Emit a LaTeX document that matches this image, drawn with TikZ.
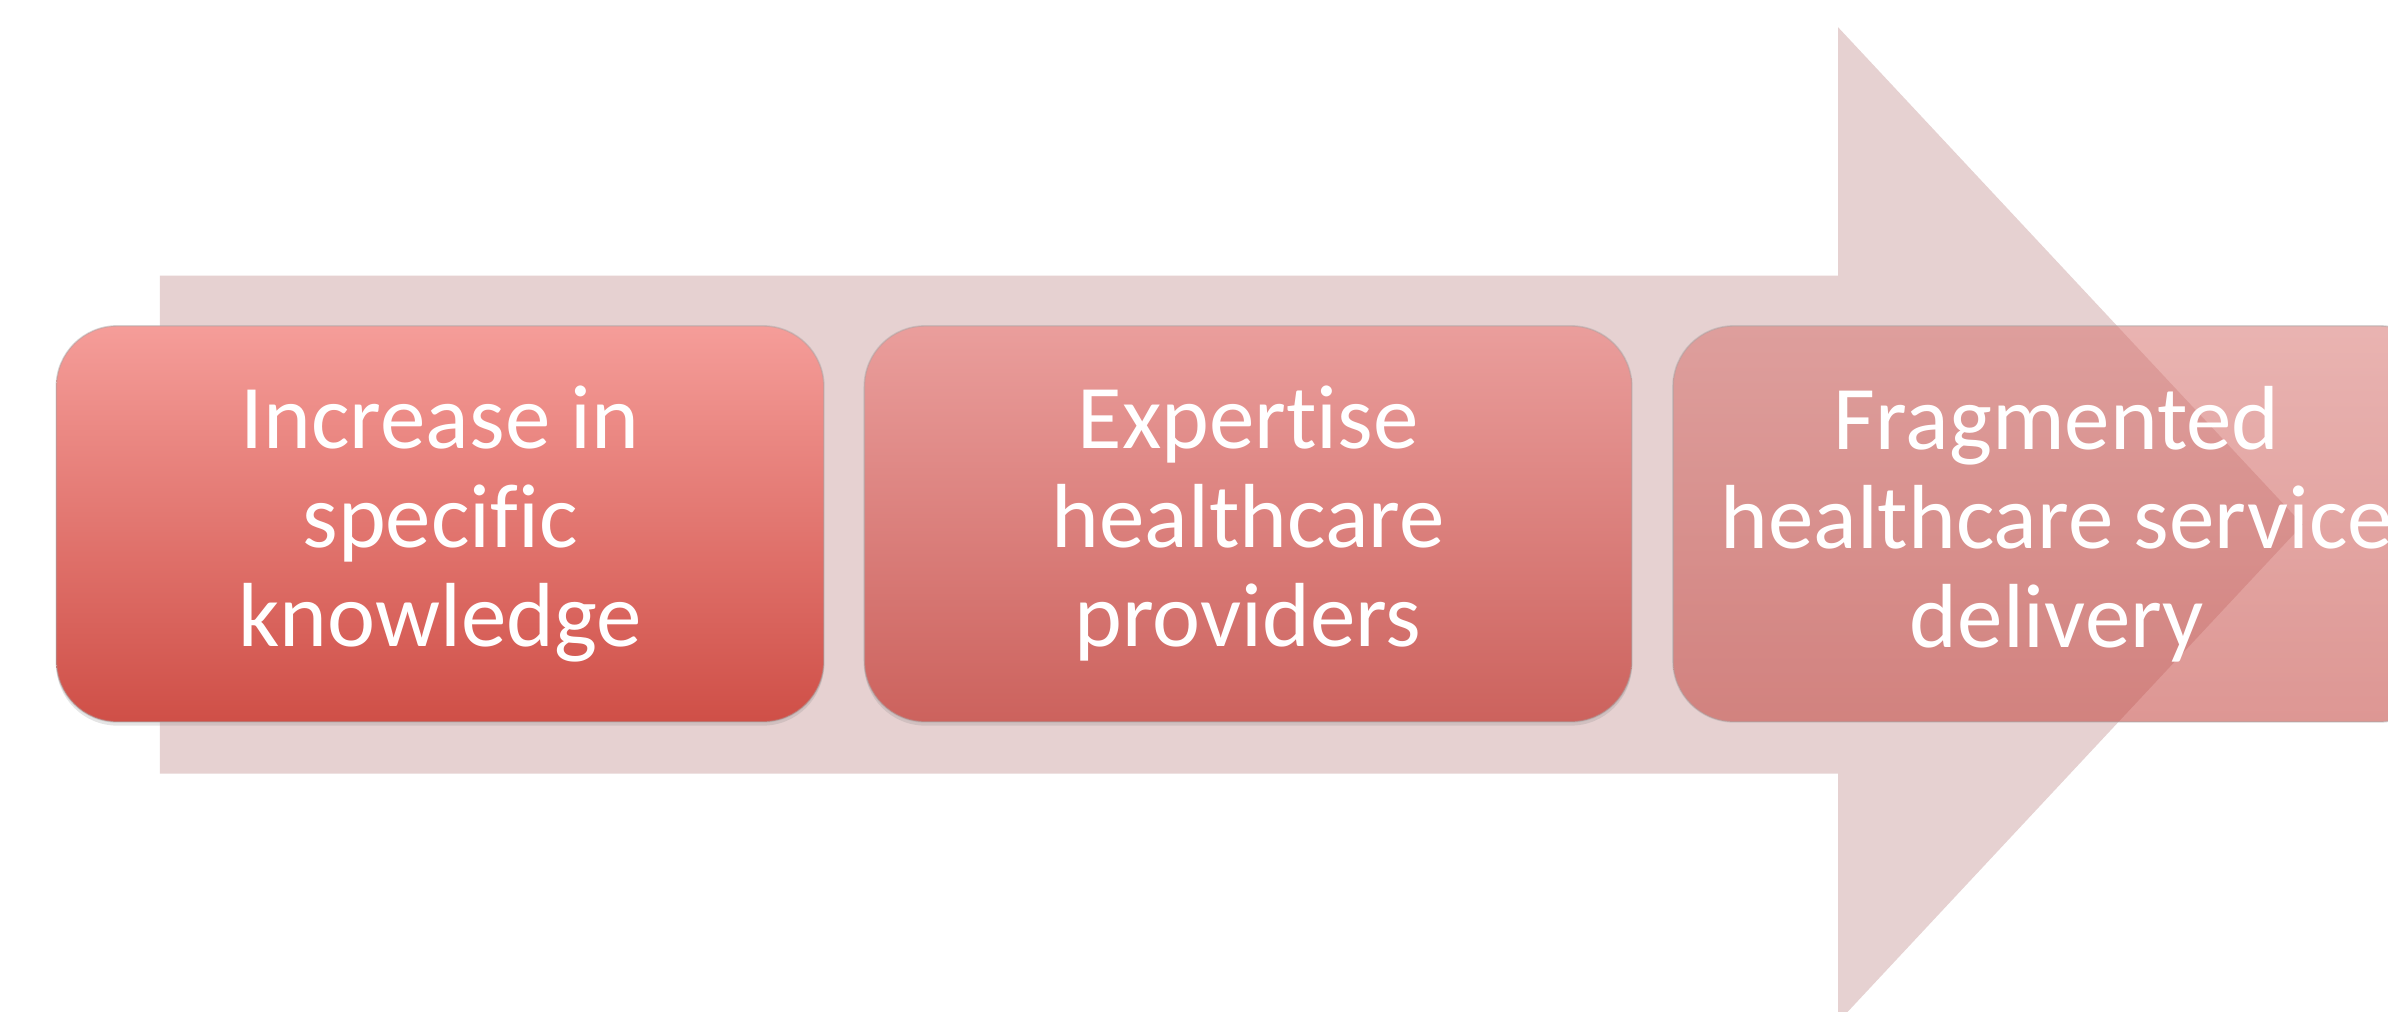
\documentclass[tikz,border=0pt]{standalone}
\usepackage{fontspec}
\setmainfont{Carlito}[Ligatures={NoCommon}]
\usetikzlibrary{shadows}

\definecolor{arrowfill}{RGB}{230,209,209}
\definecolor{boxAtop}{RGB}{245,157,153}
\definecolor{boxAbot}{RGB}{207,79,71}
\definecolor{boxBtop}{RGB}{234,158,156}
\definecolor{boxBbot}{RGB}{204,98,93}
\definecolor{boxCtop}{RGB}{216,118,114}
\definecolor{boxCbot}{RGB}{194,66,60}

\tikzset{
  stagebox/.style={
    rectangle, rounded corners=0.4cm,
    minimum width=5.04cm, minimum height=2.6cm,
    inner sep=0pt, align=center, text=white,
    font=\fontsize{17}{18.5}\selectfont,
    draw=black!35, draw opacity=0.45, line width=0.3pt
  },
  boxshadow/.style={drop shadow={shadow xshift=0pt, shadow yshift=-0.7pt, opacity=0.2}},
  flowarrow/.style={fill=arrowfill, draw=none}
}

\begin{document}
\begin{tikzpicture}
  \clip (0,0) rectangle (15.68,6.64);
  \fill[white] (0,0) rectangle (15.68,6.64);

  % broad background arrow
  \fill[flowarrow]
    (1.05,1.56) -- (1.05,4.83) -- (12.07,4.83) -- (12.07,6.46)
    -- (15.12,3.195) -- (12.07,-0.07) -- (12.07,1.56) -- cycle;

  % three stages
  \node[stagebox, boxshadow, shade, top color=boxAtop, bottom color=boxAbot]
    (s1) at (2.89,3.20) {Increase in\\specific\\knowledge};
  \node[stagebox, boxshadow, shade, top color=boxBtop, bottom color=boxBbot]
    (s2) at (8.195,3.20) {Expertise\\healthcare\\providers};
  \node[stagebox, shade, top color=boxCtop, bottom color=boxCbot,
        fill opacity=0.55, text opacity=1]
    (s3) at (13.505,3.20) {Fragmented\\healthcare service\\delivery};
\end{tikzpicture}
\end{document}
